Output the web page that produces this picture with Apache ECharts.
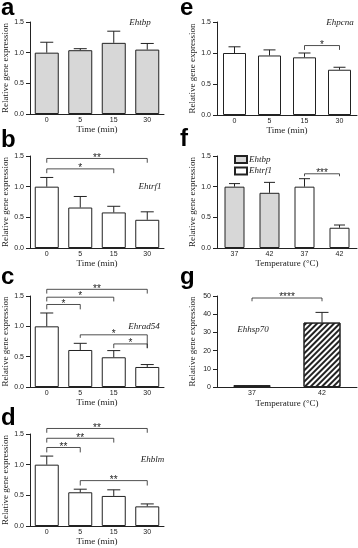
<!DOCTYPE html>
<html>
<head>
<meta charset="utf-8">
<script src="https://cdn.jsdelivr.net/npm/echarts@6/dist/echarts.min.js"></script>
<style>
  html, body { margin: 0; padding: 0; background: #fff; }
  #chart { width: 358px; height: 548px; }
</style>
</head>
<body>
<div id="chart"></div>
<script>
// categories
const timeCats = ["0", "5", "15", "30"];
const tempCatsF = ["37", "42", "37", "42"];
const tempCatsG = ["37", "42"];

// a: Ehtbp
const tbpMean = [1.0, 1.04, 1.16, 1.05];
const tbpSem = [0.17, 0.025, 0.19, 0.1];
// b: Ehtrf1
const trf1Mean = [1.0, 0.66, 0.58, 0.46];
const trf1Sem = [0.15, 0.18, 0.1, 0.13];
// c: Ehrad54
const rad54Mean = [1.0, 0.61, 0.49, 0.33];
const rad54Sem = [0.22, 0.11, 0.11, 0.04];
// d: Ehblm
const blmMean = [1.0, 0.55, 0.49, 0.32];
const blmSem = [0.14, 0.05, 0.1, 0.04];
// e: Ehpcna
const pcnaMean = [1.0, 0.96, 0.93, 0.73];
const pcnaSem = [0.1, 0.09, 0.07, 0.04];
// f: heat shock 37 vs 42
const heatTbpMean = [1.0, 0.9];
const heatTbpSem = [0.05, 0.17];
const heatTrf1Mean = [1.0, 0.33];
const heatTrf1Sem = [0.13, 0.045];
// g: Ehhsp70
const hsp70Mean = [1.0, 35.4];
const hsp70Sem = [0, 5.6];

// significance brackets: [from, to, level, left end, right end]
const bBrackets = [[0, 3, 1.46, 1.39, 1.39], [0, 2, 1.29, 1.22, 1.22]];
const bStars = ["**", "*"];
const cBrackets = [[0, 3, 1.61, 1.54, 1.54], [0, 2, 1.48, 1.41, 1.41], [0, 1, 1.36, 1.28, 1.28],
                   [1, 3, 0.86, 0.81, 0.64], [2, 3, 0.71, 0.64, 0.64]];
const cStars = ["**", "*", "*", "*", "*"];
const dBrackets = [[0, 3, 1.59, 1.52, 1.52], [0, 2, 1.43, 1.36, 1.36], [0, 1, 1.28, 1.2, 1.2],
                   [1, 3, 0.74, 0.66, 0.66]];
const dStars = ["**", "**", "**", "**"];
const eBrackets = [[2, 3, 1.12, 1.05, 1.05]];
const eStars = ["*"];
const fBrackets = [[2, 3, 1.21, 1.17, 1.17]];
const fStars = ["***"];
const gBrackets = [[0, 1, 48.9, 47.1, 47.1]];
const gStars = ["****"];

const geneNames = ["Ehtbp", "Ehtrf1", "Ehrad54", "Ehblm", "Ehpcna", "", "Ehhsp70"];
const panelLetters = ["a", "b", "c", "d", "e", "f", "g"];

const ink = "#222";
const greyFill = "#d7d7d7";
const sans = "Liberation Sans";
const serif = "Liberation Serif";

// panel boxes
const grids = [
  { left: 30, top: 22, width: 134, height: 92 },
  { left: 30, top: 156, width: 134, height: 92 },
  { left: 30, top: 296, width: 134, height: 91 },
  { left: 30, top: 434, width: 134, height: 92 },
  { left: 217, top: 22, width: 140, height: 93 },
  { left: 217, top: 156, width: 140, height: 92 },
  { left: 217, top: 296, width: 140, height: 91 }
];
const letterPos = [[1, 8.5], [1, 140], [1, 277], [1, 418.5], [180, 8.5], [180, 139.5], [180, 277]];
const genePos = [[140, 22.5], [150, 187], [144, 327], [152.5, 460], [340, 23], null, [253, 330]];

function xAxisFor(i, cats, name, gap) {
  return {
    type: "category", gridIndex: i,
    data: cats.map((c, j) => String(j)),
    name: name, nameLocation: "middle", nameGap: gap,
    nameTextStyle: { fontFamily: serif, fontSize: 9, color: ink },
    axisLine: { lineStyle: { color: ink, width: 1 } },
    axisTick: { alignWithLabel: true, length: 3, lineStyle: { color: ink } },
    axisLabel: { fontFamily: sans, fontSize: 7, color: ink, margin: 3, formatter: (v, j) => cats[j] },
    splitLine: { show: false }
  };
}

function yAxisFor(i, max, step, digits) {
  return {
    type: "value", gridIndex: i, min: 0, max: max, interval: step,
    name: "Relative gene expression", nameLocation: "middle", nameGap: 20,
    nameTextStyle: { fontFamily: serif, fontSize: 9, color: ink },
    axisLine: { show: true, lineStyle: { color: ink, width: 1 } },
    axisTick: { show: true, length: 4, lineStyle: { color: ink } },
    axisLabel: { fontFamily: sans, fontSize: 7, color: ink, margin: 6, formatter: (v) => v.toFixed(digits) },
    splitLine: { show: false }
  };
}

function barSeries(i, name, values, width, fill, decal) {
  const s = {
    type: "bar", name: name, xAxisIndex: i, yAxisIndex: i,
    data: values, barWidth: width, barGap: "-100%", z: 2,
    itemStyle: { color: fill, borderColor: ink, borderWidth: 1 }
  };
  if (decal) s.itemStyle.decal = decal;
  return s;
}

function errorSeries(i, means, sems, capW) {
  return {
    type: "custom", xAxisIndex: i, yAxisIndex: i, z: 3, silent: true,
    data: means.map((m, j) => [j, m, m + sems[j]]),
    renderItem: function (params, api) {
      const x = api.value(0), m = api.value(1), t = api.value(2);
      if (!(t > m)) return;
      const b = api.coord([x, m]);
      const p = api.coord([x, t]);
      const st = { stroke: ink, lineWidth: 1 };
      return {
        type: "group",
        children: [
          { type: "line", shape: { x1: b[0], y1: b[1], x2: p[0], y2: p[1] }, style: st },
          { type: "line", shape: { x1: p[0] - capW / 2, y1: p[1], x2: p[0] + capW / 2, y2: p[1] }, style: st }
        ]
      };
    }
  };
}

function bracketSeries(i, brackets, stars) {
  return {
    type: "custom", xAxisIndex: i, yAxisIndex: i, z: 3, silent: true,
    data: brackets,
    renderItem: function (params, api) {
      const from = api.value(0), to = api.value(1), lvl = api.value(2);
      const p1 = api.coord([from, api.value(3)]);
      const p2 = api.coord([from, lvl]);
      const p3 = api.coord([to, lvl]);
      const p4 = api.coord([to, api.value(4)]);
      return {
        type: "group",
        children: [
          { type: "polyline", shape: { points: [p1, p2, p3, p4] }, style: { stroke: ink, fill: null, lineWidth: 0.8 } },
          { type: "text", style: { text: stars[params.dataIndex], x: (p2[0] + p3[0]) / 2, y: p2[1] + 4.5,
              align: "center", verticalAlign: "bottom", font: "10px " + sans, fill: ink } }
        ]
      };
    }
  };
}

const hatch = {
  symbol: "rect", symbolSize: 1, color: ink,
  dashArrayX: [1, 0], dashArrayY: [1.3, 1.8], rotation: -Math.PI / 4
};

const xAxes = [
  xAxisFor(0, timeCats, "Time (min)", 10),
  xAxisFor(1, timeCats, "Time (min)", 10),
  xAxisFor(2, timeCats, "Time (min)", 7),
  xAxisFor(3, timeCats, "Time (min)", 10),
  xAxisFor(4, timeCats, "Time (min)", 9),
  xAxisFor(5, tempCatsF, "Temperature (°C)", 10),
  xAxisFor(6, tempCatsG, "Temperature (°C)", 12)
];
const yAxes = [0, 1, 2, 3, 4, 5].map((i) => yAxisFor(i, 1.5, 0.5, 1)).concat([yAxisFor(6, 50, 10, 0)]);

const fTbpBars = heatTbpMean.concat(["-", "-"]);
const fTrf1Bars = ["-", "-"].concat(heatTrf1Mean);

const series = [
  barSeries(0, "a", tbpMean, 24, greyFill),
  errorSeries(0, tbpMean, tbpSem, 13),
  barSeries(1, "b", trf1Mean, 24, "#fff"),
  errorSeries(1, trf1Mean, trf1Sem, 13),
  bracketSeries(1, bBrackets, bStars),
  barSeries(2, "c", rad54Mean, 24, "#fff"),
  errorSeries(2, rad54Mean, rad54Sem, 13),
  bracketSeries(2, cBrackets, cStars),
  barSeries(3, "d", blmMean, 24, "#fff"),
  errorSeries(3, blmMean, blmSem, 13),
  bracketSeries(3, dBrackets, dStars),
  barSeries(4, "e", pcnaMean, 23, "#fff"),
  errorSeries(4, pcnaMean, pcnaSem, 12),
  bracketSeries(4, eBrackets, eStars),
  barSeries(5, "Ehtbp", fTbpBars, 20, greyFill),
  barSeries(5, "Ehtrf1", fTrf1Bars, 20, "#fff"),
  errorSeries(5, heatTbpMean.concat(heatTrf1Mean), heatTbpSem.concat(heatTrf1Sem), 11),
  bracketSeries(5, fBrackets, fStars),
  barSeries(6, "g", hsp70Mean, 37, "#fff", hatch),
  errorSeries(6, hsp70Mean, hsp70Sem, 13),
  bracketSeries(6, gBrackets, gStars)
];

const graphics = [];
panelLetters.forEach((t, i) => {
  graphics.push({ type: "text", silent: true, style: { text: t, x: letterPos[i][0], y: letterPos[i][1],
    align: "left", verticalAlign: "middle", font: "bold 24px " + sans, fill: "#000" } });
});
geneNames.forEach((t, i) => {
  if (!t) return;
  graphics.push({ type: "text", silent: true, style: { text: t, x: genePos[i][0], y: genePos[i][1],
    align: "center", verticalAlign: "middle", font: "italic 9px " + serif, fill: ink } });
});

const chart = echarts.init(document.getElementById("chart"), null, { renderer: "canvas" });
chart.setOption({
  animation: false,
  backgroundColor: "#fff",
  grid: grids,
  xAxis: xAxes,
  yAxis: yAxes,
  legend: {
    data: ["Ehtbp", "Ehtrf1"], orient: "vertical", left: 234, top: 155,
    itemWidth: 12, itemHeight: 7, itemGap: 2.5, padding: 0, icon: "rect",
    textStyle: { fontFamily: serif, fontStyle: "italic", fontSize: 9, color: ink, padding: [0, 0, 0, -3] }
  },
  graphic: graphics,
  series: series
});
</script>
</body>
</html>
